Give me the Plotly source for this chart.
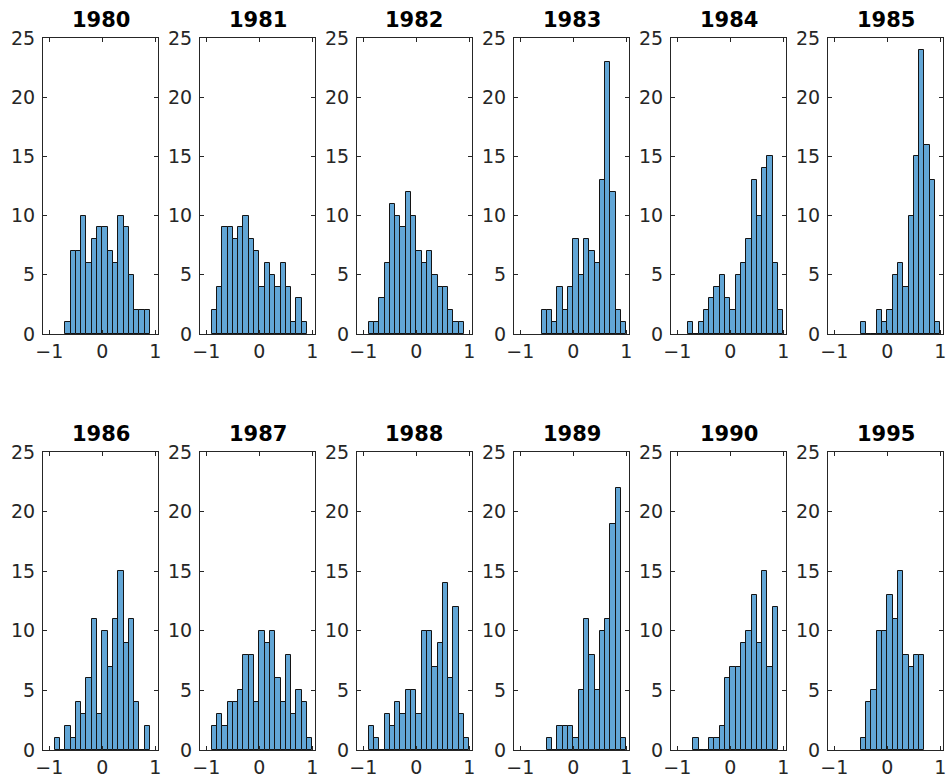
import plotly.graph_objects as go

# ---- data (histogram counts, bin width 0.1) ----
years = ["1980", "1981", "1982", "1983", "1984", "1985",
         "1986", "1987", "1988", "1989", "1990", "1995"]
bin_width = 0.1
first_edges = [-0.7, -0.9, -0.9, -0.6, -0.8, -0.5,
               -0.9, -0.9, -0.9, -0.5, -0.7, -0.5]

counts_1980 = [1, 7, 7, 10, 6, 8, 9, 9, 7, 6, 10, 9, 5, 2, 2, 2]
counts_1981 = [2, 4, 9, 9, 8, 9, 10, 8, 7, 4, 6, 5, 4, 6, 4, 1, 3, 1]
counts_1982 = [1, 1, 3, 6, 11, 10, 9, 12, 10, 7, 6, 7, 5, 4, 4, 2, 1, 1]
counts_1983 = [2, 2, 1, 4, 2, 4, 8, 5, 8, 7, 6, 13, 23, 12, 2, 1]
counts_1984 = [1, 0, 1, 2, 3, 4, 5, 3, 2, 5, 6, 8, 13, 10, 14, 15, 6, 2]
counts_1985 = [1, 0, 0, 2, 1, 2, 5, 6, 4, 10, 15, 24, 16, 13, 1]
counts_1986 = [1, 0, 2, 1, 4, 3, 6, 11, 3, 10, 7, 11, 15, 9, 11, 4, 0, 2]
counts_1987 = [2, 3, 2, 4, 4, 5, 8, 8, 4, 10, 9, 10, 6, 4, 8, 3, 5, 4, 1]
counts_1988 = [2, 1, 0, 3, 2, 4, 3, 5, 5, 3, 10, 10, 7, 9, 14, 6, 12, 3, 1]
counts_1989 = [1, 0, 2, 2, 2, 1, 5, 11, 8, 5, 10, 11, 19, 22, 1]
counts_1990 = [1, 0, 0, 1, 1, 2, 6, 7, 7, 9, 10, 13, 9, 15, 7, 12]
counts_1995 = [1, 4, 5, 10, 10, 13, 11, 15, 8, 7, 8, 8]

all_counts = [counts_1980, counts_1981, counts_1982, counts_1983, counts_1984,
              counts_1985, counts_1986, counts_1987, counts_1988, counts_1989,
              counts_1990, counts_1995]

x_ticks = [-1, 0, 1]
y_ticks = [0, 5, 10, 15, 20, 25]

# ---- layout geometry (pixels) ----
W, H = 947, 782
left0, step, pw = 43, 157, 115
row_tops = [38, 452]
row_bottoms = [334, 750]

FACE = "rgb(98,166,214)"
EDGE = "rgb(20,20,20)"
AX = "#262626"
FONT = "DejaVu Sans"
TICK_SIZE = 19

fig = go.Figure()
layout = dict(
    width=W, height=H, autosize=False,
    margin=dict(l=0, r=0, t=0, b=0, pad=0),
    paper_bgcolor="white", plot_bgcolor="white",
    showlegend=False, bargap=0,
    font=dict(family=FONT, color=AX, size=TICK_SIZE),
)
annotations = []

for i, (yr, cnts, e0) in enumerate(zip(years, all_counts, first_edges)):
    r, c = divmod(i, 6)
    n = i + 1
    xs = [round(e0 + bin_width * (k + 0.5), 3) for k in range(len(cnts))]
    fig.add_trace(go.Bar(
        x=xs, y=cnts, width=bin_width,
        marker=dict(color=FACE, line=dict(color=EDGE, width=1)),
        xaxis=f"x{n}", yaxis=f"y{n}", hoverinfo="x+y",
    ))
    x0 = (left0 + c * step) / W
    x1 = (left0 + c * step + pw) / W
    y0 = 1 - row_bottoms[r] / H
    y1 = 1 - row_tops[r] / H
    xk = "xaxis" if n == 1 else f"xaxis{n}"
    yk = "yaxis" if n == 1 else f"yaxis{n}"
    layout[xk] = dict(
        domain=[x0, x1], anchor=f"y{n}", range=[-1.12, 1.05],
        tickmode="array", tickvals=x_ticks, automargin=False,
        ticks="inside", ticklen=4, tickcolor=AX, tickwidth=1,
        showline=True, linecolor=AX, linewidth=1, mirror="ticks",
        showgrid=False, zeroline=False,
        tickfont=dict(family=FONT, size=TICK_SIZE, color=AX),
    )
    layout[yk] = dict(
        domain=[y0, y1], anchor=f"x{n}", range=[0, 25],
        tickmode="array", tickvals=y_ticks, automargin=False,
        ticks="inside", ticklen=4, tickcolor=AX, tickwidth=1,
        showline=True, linecolor=AX, linewidth=1, mirror="ticks",
        showgrid=False, zeroline=False,
        tickfont=dict(family=FONT, size=TICK_SIZE, color=AX),
        ticklabelstandoff=3,
    )
    annotations.append(dict(
        text=f"<b>{yr}</b>", xref="paper", yref="paper",
        x=(x0 + x1) / 2, y=y1, xanchor="center", yanchor="bottom",
        yshift=4, showarrow=False,
        font=dict(family=FONT, size=21, color="black"),
    ))

layout["annotations"] = annotations
fig.update_layout(**layout)
fig.write_html("out.html", config={"displayModeBar": False},
               post_script="document.body.style.margin='0';document.body.style.overflow='hidden';")
